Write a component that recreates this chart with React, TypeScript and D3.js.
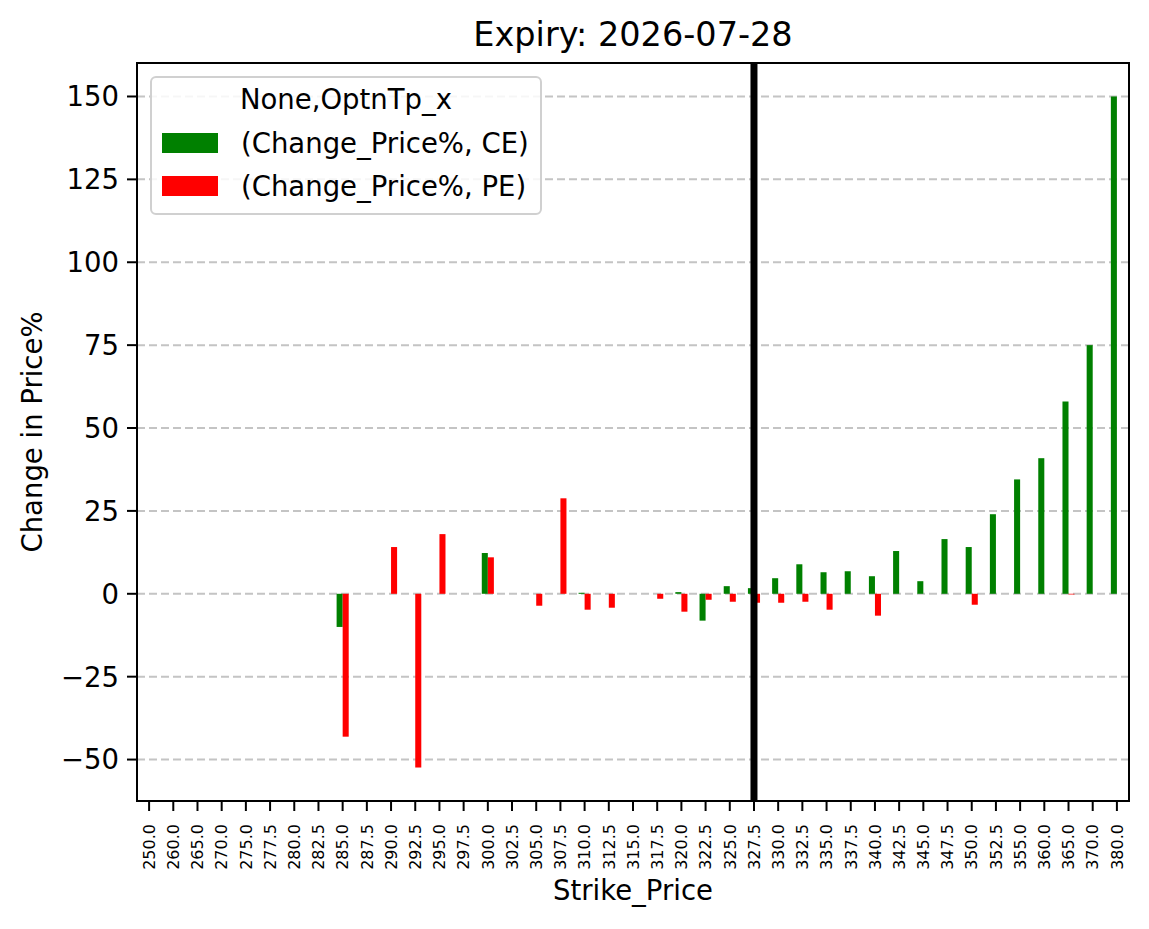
import React, { useEffect, useRef } from 'react';
import * as d3 from 'd3';

// strike prices on the x axis (categorical)
const strikes = [
  '250.0', '260.0', '265.0', '270.0', '275.0', '277.5', '280.0', '282.5', '285.0', '287.5',
  '290.0', '292.5', '295.0', '297.5', '300.0', '302.5', '305.0', '307.5', '310.0', '312.5',
  '315.0', '317.5', '320.0', '322.5', '325.0', '327.5', '330.0', '332.5', '335.0', '337.5',
  '340.0', '342.5', '345.0', '347.5', '350.0', '352.5', '355.0', '360.0', '365.0', '370.0',
  '380.0',
];

// (Change_Price%, CE)
const ceChange: (number | null)[] = [
  null, null, null, null, null, null, null, null, -10.0, null,
  null, null, null, null, 12.3, null, null, null, 0.3, null,
  null, null, 0.5, -8.1, 2.3, 1.7, 4.7, 8.9, 6.5, 6.8,
  5.3, 12.9, 3.8, 16.5, 14.1, 24.0, 34.5, 40.9, 58.0, 75.0,
  150.0,
];

// (Change_Price%, PE)
const peChange: (number | null)[] = [
  null, null, null, null, null, null, null, null, -43.1, null,
  14.1, -52.4, 18.0, null, 11.0, null, -3.6, 28.8, -4.8, -4.2,
  null, -1.5, -5.4, -1.8, -2.4, -2.7, -2.7, -2.4, -4.8, null,
  -6.6, null, null, null, -3.3, null, null, null, -0.2, null,
  null,
];

const yTicks = [-50, -25, 0, 25, 50, 75, 100, 125, 150];
const spotStrike = '327.5';
const seriesNames = ['(Change_Price%, CE)', '(Change_Price%, PE)'];
const seriesColors = ['#008000', '#ff0000'];

const W = 1149;
const H = 929;
const FONT = 'DejaVu Sans, sans-serif';

const App = () => {
  const ref = useRef<SVGSVGElement | null>(null);

  useEffect(() => {
    const svg = d3.select(ref.current);
    svg.selectAll('*').remove();

    const left = 137, right = 1129, top = 63, bottom = 801;
    const n = strikes.length;

    const x = d3.scaleLinear().domain([-0.5, n - 0.5]).range([left, right]);
    const y = d3.scaleLinear().domain([-62.5, 160.1]).range([bottom, top]);
    const barW = x(0.25) - x(0);

    svg.append('rect').attr('width', W).attr('height', H).attr('fill', '#fff');

    // grid
    svg.append('g')
      .selectAll('line')
      .data(yTicks)
      .enter()
      .append('line')
      .attr('x1', left).attr('x2', right)
      .attr('y1', d => y(d)).attr('y2', d => y(d))
      .attr('stroke', '#c4c4c4')
      .attr('stroke-width', 2)
      .attr('stroke-dasharray', '8,4');

    // bars
    const series = [ceChange, peChange];
    series.forEach((vals, si) => {
      svg.append('g')
        .selectAll('rect')
        .data(vals.map((v, i) => ({ v, i })).filter(d => d.v !== null))
        .enter()
        .append('rect')
        .attr('x', d => x(d.i - 0.25 + si * 0.25))
        .attr('width', barW)
        .attr('y', d => Math.min(y(d.v as number), y(0)))
        .attr('height', d => Math.abs(y(d.v as number) - y(0)))
        .attr('fill', seriesColors[si]);
    });

    // spot line
    const spotX = x(strikes.indexOf(spotStrike));
    svg.append('line')
      .attr('x1', spotX).attr('x2', spotX)
      .attr('y1', top).attr('y2', bottom)
      .attr('stroke', '#000')
      .attr('stroke-width', 7);

    // y axis ticks
    const yAxis = svg.append('g');
    yAxis.selectAll('line')
      .data(yTicks).enter().append('line')
      .attr('x1', left - 10).attr('x2', left)
      .attr('y1', d => y(d)).attr('y2', d => y(d))
      .attr('stroke', '#000').attr('stroke-width', 2);
    yAxis.selectAll('text')
      .data(yTicks).enter().append('text')
      .attr('x', left - 18)
      .attr('y', d => y(d))
      .attr('dy', '0.36em')
      .attr('text-anchor', 'end')
      .style('font-family', FONT)
      .style('font-size', '27.5px')
      .text(d => (d < 0 ? '\u2212' + Math.abs(d) : String(d)));

    // x axis ticks
    const xAxis = svg.append('g');
    xAxis.selectAll('line')
      .data(strikes).enter().append('line')
      .attr('x1', (d, i) => x(i)).attr('x2', (d, i) => x(i))
      .attr('y1', bottom).attr('y2', bottom + 10)
      .attr('stroke', '#000').attr('stroke-width', 2);
    xAxis.selectAll('text')
      .data(strikes).enter().append('text')
      .attr('transform', (d, i) => `translate(${x(i)},${bottom + 23}) rotate(-90)`)
      .attr('dy', '0.36em')
      .attr('text-anchor', 'end')
      .style('font-family', FONT)
      .style('font-size', '16px')
      .text(d => d);

    // frame
    svg.append('rect')
      .attr('x', left).attr('y', top)
      .attr('width', right - left).attr('height', bottom - top)
      .attr('fill', 'none')
      .attr('stroke', '#000')
      .attr('stroke-width', 2);

    // labels
    svg.append('text')
      .attr('x', (left + right) / 2).attr('y', 46)
      .attr('text-anchor', 'middle')
      .style('font-family', FONT).style('font-size', '33.5px')
      .text('Expiry: 2026-07-28');
    svg.append('text')
      .attr('x', (left + right) / 2).attr('y', 900)
      .attr('text-anchor', 'middle')
      .style('font-family', FONT).style('font-size', '27.5px')
      .text('Strike_Price');
    svg.append('text')
      .attr('transform', `translate(42,${(top + bottom) / 2}) rotate(-90)`)
      .attr('text-anchor', 'middle')
      .style('font-family', FONT).style('font-size', '27.5px')
      .text('Change in Price%');

    // legend
    const lg = svg.append('g');
    lg.append('rect')
      .attr('x', 151).attr('y', 77)
      .attr('width', 390).attr('height', 137)
      .attr('rx', 5)
      .attr('fill', 'rgba(255,255,255,0.85)')
      .attr('stroke', '#d0d0d0')
      .attr('stroke-width', 2);
    lg.append('text')
      .attr('x', 346).attr('y', 109)
      .attr('text-anchor', 'middle')
      .style('font-family', FONT).style('font-size', '27.5px')
      .text('None,OptnTp_x');
    seriesNames.forEach((name, i) => {
      lg.append('rect')
        .attr('x', 162).attr('y', 133 + i * 43)
        .attr('width', 56).attr('height', 20)
        .attr('fill', seriesColors[i]);
      lg.append('text')
        .attr('x', 241).attr('y', 153 + i * 43)
        .style('font-family', FONT).style('font-size', '27.5px')
        .text(name);
    });
  }, []);

  return (
    <svg
      ref={ref}
      width={W}
      height={H}
      style={{ position: 'absolute', left: 0, top: 0, display: 'block' }}
    />
  );
};

export default App;
